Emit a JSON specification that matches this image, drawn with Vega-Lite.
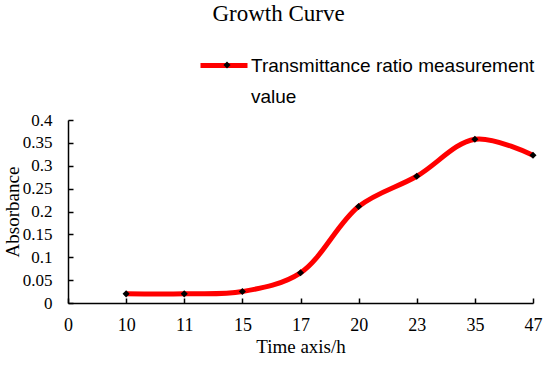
{
  "$schema": "https://vega.github.io/schema/vega-lite/v6.json",
  "width": 465,
  "height": 183,
  "autosize": {"type": "none"},
  "padding": {"left": 68, "top": 120, "right": 17, "bottom": 67},
  "background": "white",
  "title": {
    "text": "Growth Curve",
    "font": "Liberation Serif",
    "fontSize": 23,
    "fontWeight": "normal",
    "color": "black",
    "anchor": "middle",
    "frame": "group",
    "dx": -22,
    "offset": 14
  },
  "data": {
    "values": [
      {"t": "10", "absorbance": 0.02, "series": "Transmittance ratio measurement value"},
      {"t": "11", "absorbance": 0.02, "series": "Transmittance ratio measurement value"},
      {"t": "15", "absorbance": 0.025, "series": "Transmittance ratio measurement value"},
      {"t": "17", "absorbance": 0.066, "series": "Transmittance ratio measurement value"},
      {"t": "20", "absorbance": 0.211, "series": "Transmittance ratio measurement value"},
      {"t": "23", "absorbance": 0.277, "series": "Transmittance ratio measurement value"},
      {"t": "35", "absorbance": 0.358, "series": "Transmittance ratio measurement value"},
      {"t": "47", "absorbance": 0.323, "series": "Transmittance ratio measurement value"}
    ]
  },
  "encoding": {
    "x": {
      "field": "t",
      "type": "ordinal",
      "scale": {"type": "point", "domain": ["0", "10", "11", "15", "17", "20", "23", "35", "47"], "padding": 0},
      "axis": {
        "title": "Time axis/h",
        "labelAngle": 0,
        "labelFontSize": 18,
        "labelPadding": 18,
        "titlePadding": 3
      }
    },
    "y": {
      "field": "absorbance",
      "type": "quantitative",
      "scale": {"domain": [0, 0.4], "nice": false},
      "axis": {
        "title": "Absorbance",
        "values": [0, 0.05, 0.1, 0.15, 0.2, 0.25, 0.3, 0.35, 0.4],
        "format": ".2~f",
        "labelFontSize": 17,
        "labelPadding": 21,
        "titlePadding": 0
      }
    }
  },
  "layer": [
    {
      "mark": {"type": "line", "interpolate": "catmull-rom", "strokeWidth": 5},
      "encoding": {
        "color": {
          "field": "series",
          "type": "nominal",
          "scale": {"range": ["#ff0000"]},
          "legend": {
            "title": null,
            "orient": "none",
            "legendX": 130,
            "legendY": -80.5,
            "padding": 0,
            "symbolType": "stroke",
            "symbolSize": 2209,
            "symbolStrokeWidth": 5,
            "labelOffset": 1,
            "labelFont": "Liberation Sans",
            "labelFontSize": 19,
            "labelColor": "black",
            "labelBaseline": "top",
            "labelLimit": 400,
            "labelExpr": "['Transmittance ratio measurement', 'value']",
            "encode": {"labels": {"update": {"lineHeight": {"value": 31}, "dy": {"value": -9}}}}
          }
        }
      }
    },
    {
      "mark": {"type": "point", "filled": true, "size": 50, "color": "black", "opacity": 1},
      "encoding": {
        "shape": {
          "datum": "Transmittance ratio measurement value",
          "scale": {"range": ["diamond"]},
          "legend": {
            "title": null,
            "orient": "none",
            "legendX": 154,
            "legendY": -60,
            "padding": 0,
            "symbolSize": 50,
            "symbolFillColor": "black",
            "symbolStrokeColor": "black",
            "labelExpr": "''"
          }
        }
      }
    }
  ],
  "config": {
    "view": {"stroke": null},
    "axis": {
      "grid": false,
      "domainColor": "black",
      "domainWidth": 1.5,
      "tickColor": "black",
      "tickWidth": 1.5,
      "tickSize": -5,
      "labelFont": "Liberation Serif",
      "labelFontSize": 16,
      "labelColor": "black",
      "titleFont": "Liberation Serif",
      "titleFontSize": 19,
      "titleFontWeight": "normal",
      "titleColor": "black"
    }
  }
}
